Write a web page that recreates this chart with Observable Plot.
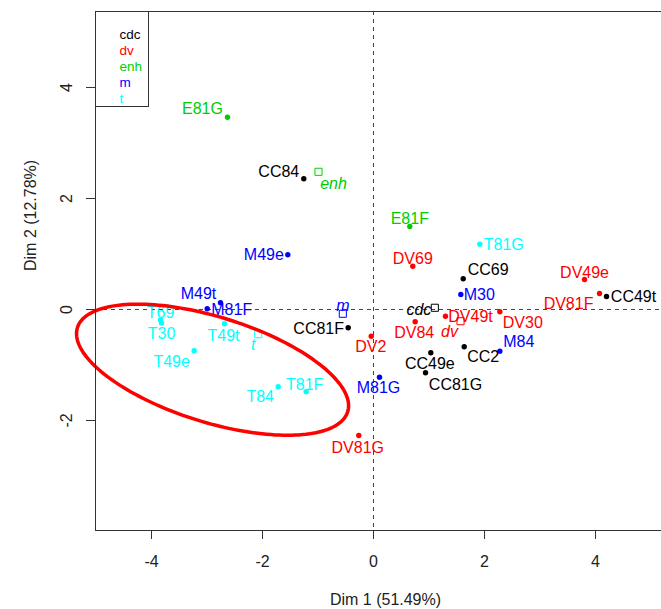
<!DOCTYPE html>
<html>
<head>
<meta charset="utf-8">
<script src="https://cdn.jsdelivr.net/npm/d3@7"></script>
<script src="https://cdn.jsdelivr.net/npm/@observablehq/plot@0.6"></script>
<style>
  html, body { margin: 0; padding: 0; background: white; overflow: hidden; }
</style>
</head>
<body>
<div id="chart"></div>
<script>
// ---- data ----
const groups = ["cdc", "dv", "enh", "m", "t"];
const groupColors = ["#000000", "#FF0000", "#00CD00", "#0000FF", "#00FFFF"];

const names = ["CC84","CC69","CC49t","CC81F","CC49e","CC81G","CC2",
               "DV69","DV49e","DV81F","DV49t","DV30","DV84","DV2","DV81G",
               "E81G","E81F",
               "M49e","M30","M84","M81G","M49t","M81F",
               "T69","T30","T49t","T49e","T84","T81F","T81G"];
const group = ["cdc","cdc","cdc","cdc","cdc","cdc","cdc",
               "dv","dv","dv","dv","dv","dv","dv","dv",
               "enh","enh",
               "m","m","m","m","m","m",
               "t","t","t","t","t","t","t"];
const dim1 = [-1.256, 1.616, 4.198, -0.456, 1.032, 0.937, 1.634,
              0.708, 3.802, 4.072, 1.297, 2.276, 0.751, -0.041, -0.265,
              -2.631, 0.654,
              -1.544, 1.573, 2.276, 0.108, -2.757, -2.996,
              -3.838, -3.820, -2.685, -3.231, -1.717, -1.213, 1.915];
const dim2 = [2.355, 0.553, 0.234, -0.330, -0.780, -1.141, -0.672,
              0.780, 0.541, 0.288, -0.121, -0.041, -0.222, -0.481, -2.270,
              3.465, 1.495,
              0.986, 0.270, -0.751, -1.220, 0.121, 0.013,
              -0.189, -0.243, -0.258, -0.744, -1.393, -1.483, 1.177];

// group centroids (supplementary categories)
const centroidDim1 = [1.105, 1.568, -0.991, -0.553, -2.077];
const centroidDim2 = [0.031, -0.211, 2.481, -0.077, -0.445];

const xTicks = [-4, -2, 0, 2, 4];
const yTicks = [-2, 0, 2, 4];
const xLabel = "Dim 1 (51.49%)";
const yLabel = "Dim 2 (12.78%)";

// hand-drawn annotation ellipse (data units)
const ellipse = {cx: -2.90, cy: -1.085, rx: 2.55, ry: 0.948, angleDeg: -17.3};

// ---- layout (label offsets in px) ----
const labelOffsets = {
  CC84: [-25, -7], CC69: [25, -9], CC49t: [27, 0], CC81F: [-29.5, 1], CC49e: [-1, 11], CC81G: [30, 12], CC2: [19, 10],
  DV69: [0, -7.5], DV49e: [0, -7], DV81F: [-31, 10], DV49t: [25, 1], DV30: [23, 11.5], DV84: [-1, 11], DV2: [-0.5, 11], DV81G: [-1, 12],
  E81G: [-25, -8], E81F: [0, -8],
  M49e: [-24, 0], M30: [18.5, 0], M84: [19, -9], M81G: [-1, 11], M49t: [-22, -9], M81F: [24.5, 1],
  T69: [0, -7], T30: [0, 10.5], T49t: [-1, 12], T49e: [-22.5, 11], T84: [-18, 10], T81F: [-1.5, -7], T81G: [24, 1]
};
const centroidOffsets = {cdc: [-16, 2], dv: [-11, 11], enh: [15, 12], m: [0, -8], t: [-5, 11]};

// ---- build tables ----
const points = names.map((n, i) => ({name: n, group: group[i], x: dim1[i], y: dim2[i]}));
const centroids = groups.map((g, i) => ({name: g, group: g, x: centroidDim1[i], y: centroidDim2[i]}));

const phi = ellipse.angleDeg * Math.PI / 180;
const ellipsePts = d3.range(0, 181).map(k => {
  const t = (k / 180) * 2 * Math.PI;
  const a = ellipse.rx * Math.cos(t), b = ellipse.ry * Math.sin(t);
  return {x: ellipse.cx + a * Math.cos(phi) - b * Math.sin(phi),
          y: ellipse.cy + a * Math.sin(phi) + b * Math.cos(phi)};
});

const FONT = "Liberation Sans, Arial, Helvetica, sans-serif";
const fmt = d => d < 0 ? "-" + Math.abs(d) : String(d);

const marks = [
  Plot.ruleX([0], {stroke: "#444", strokeDasharray: "4,4", strokeWidth: 1}),
  Plot.ruleY([0], {stroke: "#444", strokeDasharray: "4,4", strokeWidth: 1}),
  Plot.axisX({ticks: xTicks, tickSize: 9, tickPadding: 16, fontSize: 16, label: null, stroke: "#333", fill: "#222", tickFormat: fmt}),
  Plot.axisY({ticks: yTicks, tickSize: 9, tickPadding: 15, tickRotate: -90, fontSize: 16, label: null, stroke: "#333", fill: "#222", tickFormat: fmt}),
  Plot.text([xLabel], {frameAnchor: "bottom", dy: 74, fontSize: 16, fill: "#222"}),
  Plot.text([yLabel], {frameAnchor: "left", dx: -65, rotate: -90, fontSize: 16, fill: "#222"}),
  Plot.dot(points, {x: "x", y: "y", fill: "group", r: 2.7}),
  Plot.dot(centroids, {x: "x", y: "y", stroke: "group", fill: "none", symbol: "square", r: 4, strokeWidth: 1}),
  ...points.map(d => Plot.text([d], {x: "x", y: "y", text: "name", fill: "group", fontSize: 16,
      dx: labelOffsets[d.name][0], dy: labelOffsets[d.name][1]})),
  ...centroids.map(d => Plot.text([d], {x: "x", y: "y", text: "name", fill: "group", fontSize: 16, fontStyle: "italic",
      dx: centroidOffsets[d.name][0], dy: centroidOffsets[d.name][1]})),
  Plot.line(ellipsePts, {x: "x", y: "y", stroke: "#FF0000", strokeWidth: 3.5, curve: "linear-closed"}),
  Plot.frame({stroke: "#333"}),
  Plot.frame({stroke: "#333", insetRight: 527, insetBottom: 424}),
  ...groups.map((g, i) => Plot.text([g], {frameAnchor: "top-left", text: d => d, fill: d => d, textAnchor: "start",
      fontSize: 13.5, dx: 24, dy: 17.5 + i * 16}))
];

const chart = Plot.plot({
  width: 700,
  height: 609,
  marginLeft: 95,
  marginRight: 25,
  marginTop: 11,
  marginBottom: 79,
  x: {domain: [-5.009, 5.441]},
  y: {domain: [-3.982, 5.369]},
  color: {domain: groups, range: groupColors},
  style: {fontFamily: FONT, maxWidth: "none", background: "white", overflow: "visible"},
  marks
});
document.getElementById("chart").appendChild(chart);
</script>
</body>
</html>
